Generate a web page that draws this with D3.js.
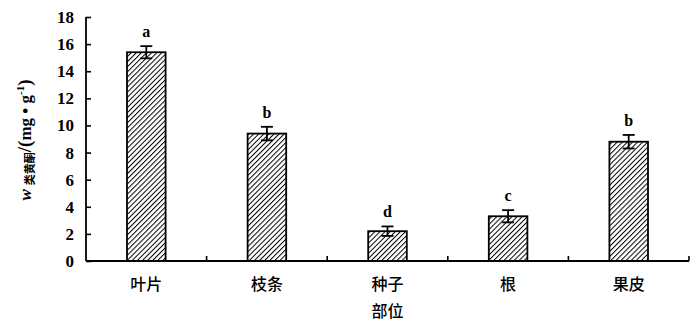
<!DOCTYPE html>
<html><head><meta charset="utf-8">
<script src="https://cdn.jsdelivr.net/npm/d3@7"></script>
<style>body{margin:0;background:#fff}svg{display:block}</style>
</head><body><div id="chart"></div>
<script>
const categories = ["叶片", "枝条", "种子", "根", "果皮"];
const values = [15.4, 9.4, 2.2, 3.3, 8.8];
const errors = [0.45, 0.5, 0.35, 0.45, 0.5];
const letters = ["a", "b", "d", "c", "b"];
const yTicks = [0, 2, 4, 6, 8, 10, 12, 14, 16, 18];

const W = 700, H = 327;
const m = {left: 86, right: 11, top: 17, bottom: 66};
const svg = d3.select("#chart").append("svg").attr("width", W).attr("height", H);

const defs = svg.append("defs");
const pat = defs.append("pattern").attr("id", "hatch").attr("patternUnits", "userSpaceOnUse")
  .attr("width", 3.6).attr("height", 3.6).attr("patternTransform", "rotate(45)");
pat.append("rect").attr("width", 3.6).attr("height", 3.6).attr("fill", "#fff");
pat.append("line").attr("x1", 0).attr("y1", 0).attr("x2", 0).attr("y2", 3.6)
  .attr("stroke", "#000").attr("stroke-width", 2);

const x = d3.scaleBand().domain(categories).range([m.left, W - m.right]).paddingInner(0.68).paddingOuter(0.34);
const xb = d3.scaleBand().domain(categories).range([m.left, W - m.right]);
const y = d3.scaleLinear().domain([0, 18]).range([H - m.bottom, m.top]);

const g = svg.append("g");
g.selectAll("rect.bar").data(values).join("rect")
  .attr("x", (d, i) => x(categories[i])).attr("width", x.bandwidth())
  .attr("y", d => y(d)).attr("height", d => y(0) - y(d))
  .attr("fill", "url(#hatch)").attr("stroke", "#000").attr("stroke-width", 1.8);

const cap = 6;
values.forEach((v, i) => {
  const cx = x(categories[i]) + x.bandwidth() / 2;
  const eg = g.append("g").attr("stroke", "#000").attr("stroke-width", 1.8);
  eg.append("line").attr("x1", cx).attr("x2", cx).attr("y1", y(v + errors[i])).attr("y2", y(v - errors[i]));
  eg.append("line").attr("x1", cx - cap).attr("x2", cx + cap).attr("y1", y(v + errors[i])).attr("y2", y(v + errors[i]));
  eg.append("line").attr("x1", cx - cap).attr("x2", cx + cap).attr("y1", y(v - errors[i])).attr("y2", y(v - errors[i]));
  g.append("text").attr("x", cx).attr("y", y(v + errors[i]) - 9)
    .attr("text-anchor", "middle").attr("font-family", "Liberation Serif, serif")
    .attr("font-weight", "bold").attr("font-size", 16).text(letters[i]);
});

const yAxis = g.append("g").attr("transform", `translate(${m.left},0)`)
  .call(d3.axisLeft(y).tickValues(yTicks).tickSize(-5).tickPadding(12));
yAxis.select(".domain").attr("d", `M0,${y(18)}V${y(0)}`).attr("stroke-width", 1.8);
yAxis.selectAll(".tick line").attr("stroke-width", 1.6);
yAxis.selectAll("text").attr("font-family", "Liberation Serif, serif").attr("font-weight", "bold")
  .attr("font-size", 17).attr("fill", "#000");

const xAxis = g.append("g").attr("transform", `translate(0,${y(0)})`);
xAxis.append("line").attr("x1", m.left).attr("x2", W - m.right).attr("y1", 0).attr("y2", 0)
  .attr("stroke", "#000").attr("stroke-width", 1.8);
const bounds = categories.slice(1).map(c => xb(c)).concat([W - m.right]);
xAxis.selectAll("line.tk").data(bounds).join("line")
  .attr("x1", d => d).attr("x2", d => d).attr("y1", 0).attr("y2", -5)
  .attr("stroke", "#000").attr("stroke-width", 1.6);
xAxis.selectAll("text.cat").data(categories).join("text")
  .attr("x", d => xb(d) + xb.bandwidth() / 2).attr("y", 29)
  .attr("text-anchor", "middle").attr("font-family", "Noto Sans CJK SC")
  .attr("font-weight", "500").attr("font-size", 16).attr("fill", "#000").text(d => d);

svg.append("text").attr("x", xb("种子") + xb.bandwidth() / 2).attr("y", 317)
  .attr("text-anchor", "middle").attr("font-family", "Noto Sans CJK SC")
  .attr("font-weight", "500").attr("font-size", 16).text("部位");

const yt = svg.append("text").attr("transform", `translate(31,${(y(0) + y(18)) / 2 + 1}) rotate(-90)`)
  .attr("text-anchor", "middle").attr("font-family", "Liberation Serif, serif")
  .attr("font-size", 17).attr("font-weight", "bold");
yt.append("tspan").attr("font-style", "italic").text("w");
yt.append("tspan").attr("font-family", "Noto Sans CJK SC").attr("font-size", 11).attr("dy", 3).attr("dx", 4).text("类黄酮");
yt.append("tspan").attr("dy", -3).attr("font-size", 19).text("/(");
yt.append("tspan").text("mg • g");
yt.append("tspan").attr("font-size", 11).attr("dy", -7).text("-1");
yt.append("tspan").attr("dy", 7).attr("font-size", 19).text(")");
</script></body></html>
